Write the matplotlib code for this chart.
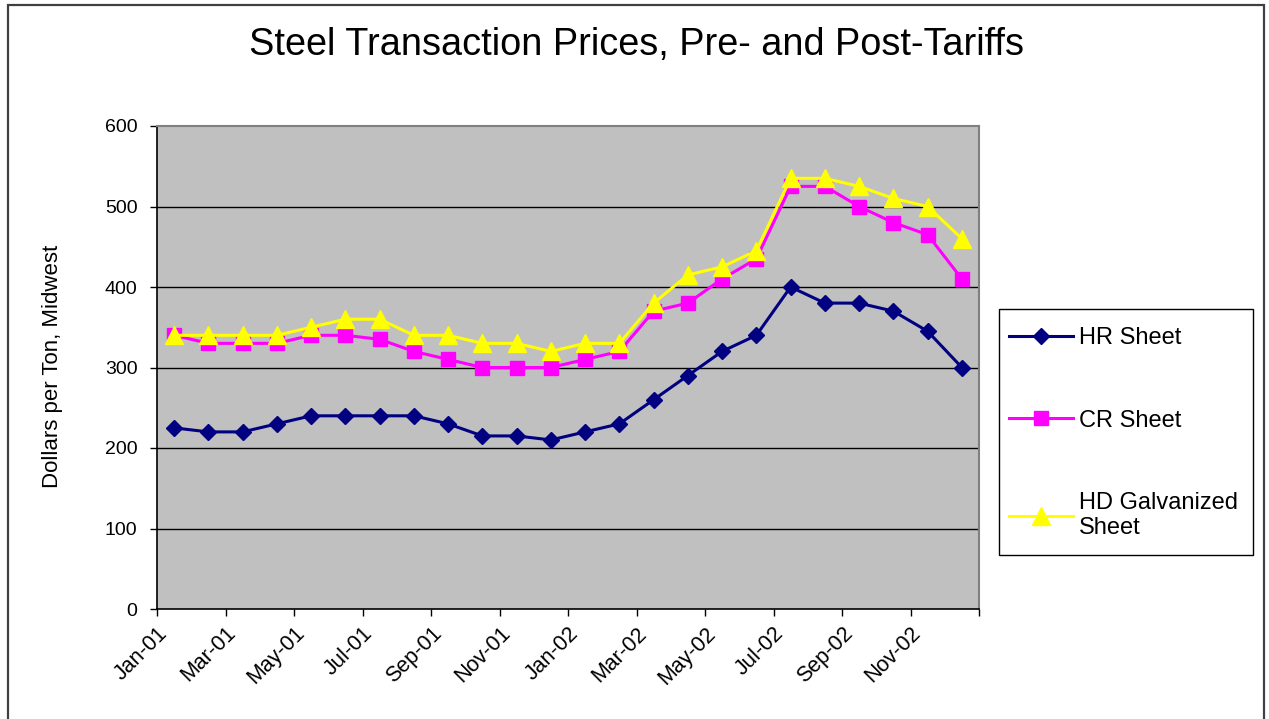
import matplotlib
matplotlib.use("Agg")
import matplotlib.pyplot as plt
from matplotlib.patches import Rectangle

months = ["Jan-01", "Feb-01", "Mar-01", "Apr-01", "May-01", "Jun-01",
          "Jul-01", "Aug-01", "Sep-01", "Oct-01", "Nov-01", "Dec-01",
          "Jan-02", "Feb-02", "Mar-02", "Apr-02", "May-02", "Jun-02",
          "Jul-02", "Aug-02", "Sep-02", "Oct-02", "Nov-02", "Dec-02"]
hr_sheet = [225, 220, 220, 230, 240, 240, 240, 240, 230, 215, 215, 210,
            220, 230, 260, 290, 320, 340, 400, 380, 380, 370, 345, 300]
cr_sheet = [340, 330, 330, 330, 340, 340, 335, 320, 310, 300, 300, 300,
            310, 320, 370, 380, 410, 435, 525, 525, 500, 480, 465, 410]
hd_galv = [340, 340, 340, 340, 350, 360, 360, 340, 340, 330, 330, 320,
           330, 330, 380, 415, 425, 445, 535, 535, 525, 510, 500, 460]
series_names = ["HR Sheet", "CR Sheet", "HD Galvanized\nSheet"]
y_ticks = [0, 100, 200, 300, 400, 500, 600]

plt.rcParams['font.family'] = ['Liberation Sans', 'DejaVu Sans']

W, H = 1269, 719
fig = plt.figure(figsize=(W / 100, H / 100), dpi=100)
fig.patch.set_facecolor("white")

# outer frame
fig.add_artist(Rectangle((7.5 / W, -0.05), (1264 - 7.5) / W, 1.05 - 4.5 / H,
                         transform=fig.transFigure, fill=False,
                         edgecolor="#404040", linewidth=1.6))

ax = fig.add_axes([157 / W, 1 - 609 / H, (979 - 157) / W, (609 - 126) / H])
ax.set_facecolor("#C0C0C0")

x = [i + 0.5 for i in range(len(months))]
ax.plot(x, hr_sheet, color="#000080", lw=2.2, marker="D", ms=8.5,
        label=series_names[0], zorder=3)
ax.plot(x, cr_sheet, color="#FF00FF", lw=2.2, marker="s", ms=10.5,
        label=series_names[1], zorder=4)
ax.plot(x, hd_galv, color="#FFFF00", lw=2.2, marker="^", ms=12.5,
        label=series_names[2], zorder=5)

ax.set_xlim(0, len(months))
ax.set_ylim(0, 600)
ax.set_yticks(y_ticks)
ax.set_yticklabels([str(v) for v in y_ticks], fontsize=14)
xt = list(range(0, len(months) + 1, 2))
ax.set_xticks(xt)
ax.set_xticklabels([months[i] if i < len(months) else "" for i in xt],
                   fontsize=15.5, rotation=45, ha="right", va="top",
                   rotation_mode="anchor")
ax.tick_params(axis="x", direction="out", length=5, width=1, pad=5)
ax.tick_params(axis="y", direction="out", length=5, width=1, pad=9)
for v in y_ticks[1:-1]:
    ax.axhline(v, color="black", lw=1.0, zorder=1)
ax.spines["left"].set_color("black")
ax.spines["bottom"].set_color("black")
ax.spines["left"].set_linewidth(1.2)
ax.spines["bottom"].set_linewidth(1.2)
ax.spines["top"].set_color("#808080")
ax.spines["right"].set_color("#808080")
ax.spines["top"].set_linewidth(1.5)
ax.spines["right"].set_linewidth(1.5)

ax.set_ylabel("Dollars per Ton, Midwest", fontsize=16)
ax.yaxis.set_label_coords((63 - 157) / 822, 0.502)

fig.text(637 / W, 1 - 45 / H, "Steel Transaction Prices, Pre- and Post-Tariffs",
         fontsize=27.3, ha="center", va="center")

# legend box
fig.add_artist(Rectangle((999 / W, 1 - 555 / H), (1253 - 999) / W, (555 - 309) / H,
                         transform=fig.transFigure, fill=True, facecolor="white",
                         edgecolor="black", linewidth=1.0, zorder=1))
leg = fig.legend(loc="upper left", bbox_to_anchor=(999 / W, 1 - 317.5 / H),
                 fontsize=17, frameon=False,
                 labelspacing=2.55, handlelength=2.7, borderpad=0.42,
                 handletextpad=0.25, borderaxespad=0)
leg.set_zorder(2)

fig.savefig("out.png", dpi=100, facecolor="white")
